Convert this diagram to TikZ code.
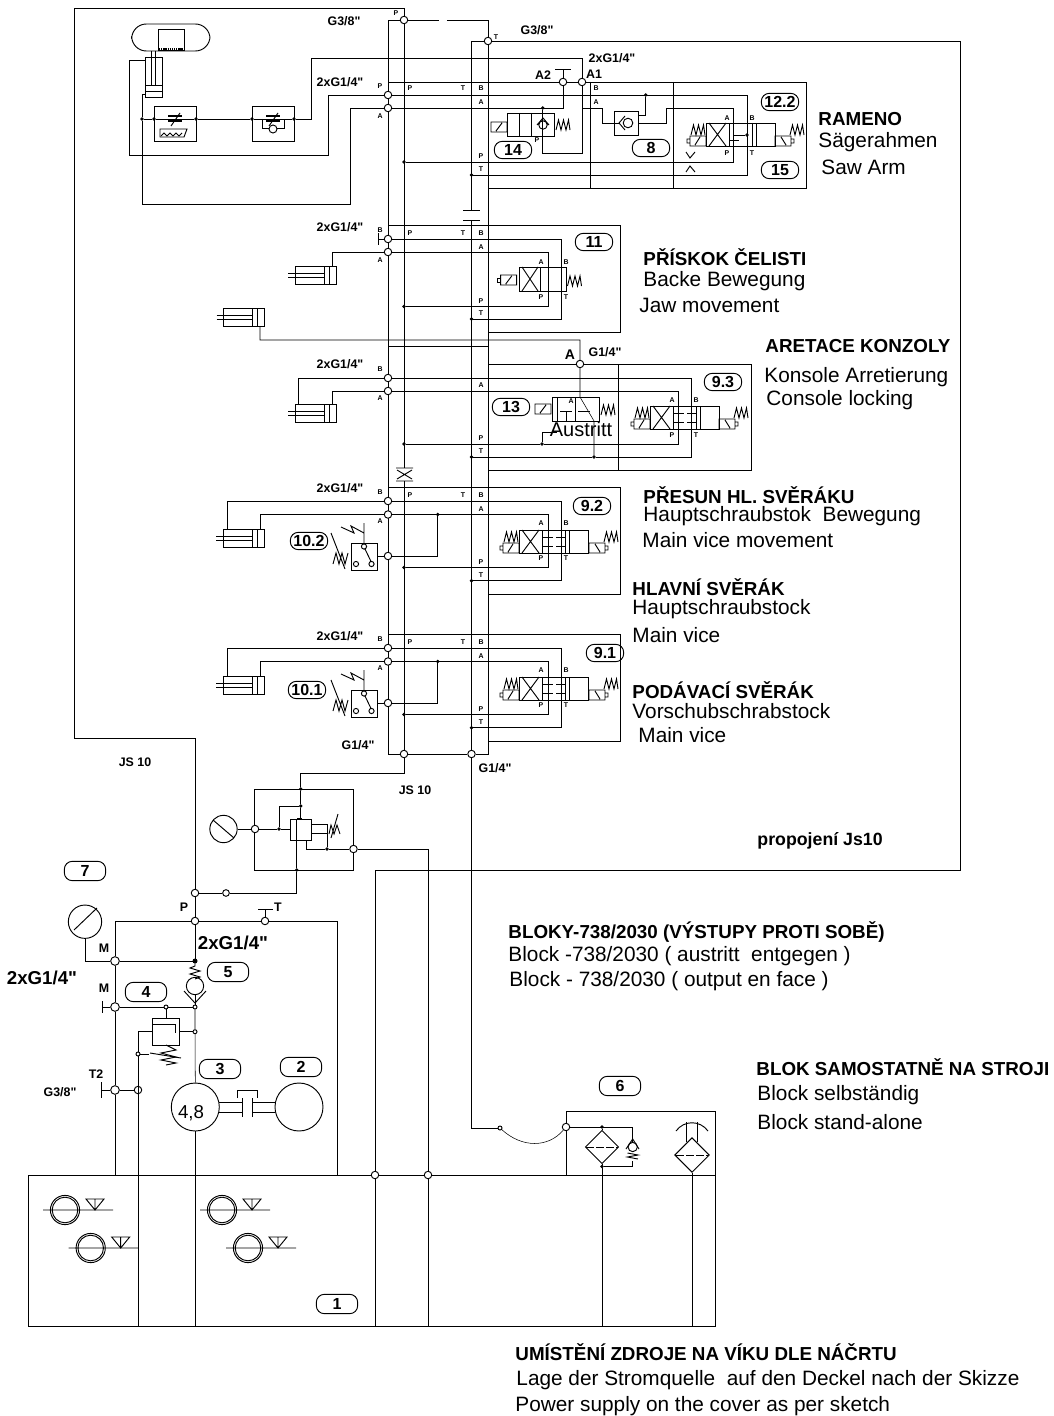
\documentclass[tikz,border=0pt]{standalone}
\usepackage{fontspec}
\setmainfont{Liberation Sans}
\newfontfamily\portfont{Liberation Sans}
\usetikzlibrary{backgrounds, shapes.geometric}

\begin{document}
\begin{tikzpicture}[
  x=0.75pt, y=-0.75pt,
  line width=0.7pt,
  port/.style={circle, draw, fill=white, inner sep=0pt, minimum size=5.6pt},
  pin/.style={circle, draw, fill=white, inner sep=0pt, minimum size=3pt},
  dot/.style={circle, draw, fill=black, inner sep=0pt, minimum size=1.8pt},
  letter/.style={inner sep=0pt, font=\fontsize{5.2}{6}\selectfont\bfseries},
  thread/.style={inner sep=0pt, font=\portfont\fontsize{9.3}{10}\selectfont\bfseries},
  head/.style={anchor=west, inner sep=0pt, font=\fontsize{14.1}{15}\selectfont\bfseries},
  sub/.style={anchor=west, inner sep=0pt, font=\fontsize{15.6}{16}\selectfont},
  balloon/.style={draw, rounded corners=6pt, minimum width=28pt, minimum height=13pt, inner sep=0pt,
    font=\fontsize{12}{13}\selectfont\bfseries},
  springz/.pic={\draw (0,10)--(2.5,0)--(5,10)--(7.5,0)--(10,10)--(12.5,0)--(14,10);},
  coil/.pic={\draw (0,0) rectangle (16,10) (5,9)--(11,1);},
  actuator/.pic={
    \draw (-16,13) rectangle (0,23) (-11,22)--(-6,14) (-16,16) rectangle (-19,20);
    \path (-15,2) pic {springz};},
  valve/.pic={
    \draw (0,0) rectangle (69,23) (23,0)--(23,23) (46,0)--(46,23) (50,0)--(50,23);
    \draw (3,0)--(20,23) (3,23)--(20,0);},
  caps/.pic={
    \draw (24,7)--(34,7) (37,7)--(47,7) (24,16)--(34,16) (37,16)--(47,16);},
  cylinder/.pic={
    \draw (0,0) rectangle (41,18) (29,0)--(29,18) (34,0)--(34,18);
    \draw (-7,7)--(29,7) (-7,11)--(29,11);},
  switch/.pic={
    \draw (0,0) rectangle (26,27);
    \draw (13,3.5) circle (2.6) (5,21) circle (2.6) (20.5,21) circle (2.6) (14,6)--(20,18.5);
    \draw (13,1)--(13,-20) (13,-10)--(0,-17)--(3,-10)--(-10,-16);
    \draw (-20,-10)--(-6,26) (-18,21)--(-15,10)--(-12,21)--(-9,10)--(-6,21)--(-3,10);},
  throttle/.pic={
    \draw[line width=1pt] (-7,-3)--(7,-3) (-7,2)--(7,2);
    \draw (-4,7)--(5,-6);},
  tanksign/.pic={
    \draw (0,0) circle (14.6) (0,0) circle (12.8) (-22,0)--(48,0);
    \draw (21,-11)--(39,-11)--(30,0)--cycle (30,-11)--(30,0);}
]
\useasboundingbox (0,0) rectangle (1053,1416);

% ports on the manifold
\node[port] (pTop) at (404,20) {};
\node[port] (tOut) at (488,41) {};
\node[port] (rB) at (388,95) {};
\node[port] (rA) at (388,108) {};
\node[port] (a2) at (563,82) {};
\node[port] (a1) at (582,82) {};
\node[dot] (rP) at (404,162) {};
\node[dot] (rT) at (471.5,175) {};
\node[dot] (d14) at (542.7,108) {};
\node[dot] (d8) at (645.7,95) {};
\node[dot] (d15) at (747,135) {};
\node[dot] (cA) at (142,119) {};
\node[dot] (cB) at (154,119) {};
\node[dot] (cC) at (196,119) {};
\node[dot] (cD) at (252,119) {};
\node[dot] (cE) at (294,119) {};
\node[port] (p11B) at (388,239) {};
\node[port] (p11A) at (388,252) {};
\node[dot] (d11P) at (404,306.5) {};
\node[dot] (d11T) at (471.5,319) {};
\node[port] (jA) at (580,364) {};
\node[port] (p13B) at (388,378) {};
\node[port] (p13A) at (388,391) {};
\node[dot] (d13P) at (404,444) {};
\node[dot] (d13T) at (471.5,457) {};
\node[dot] (e13P) at (542,444) {};
\node[dot] (e13T) at (594,457) {};
\node[port] (botP) at (404,754) {};
\node[port] (botT) at (471.5,754) {};
\foreach \d/\n in {0/a,147/b} {
  \node[port] (pB\n) at (388,{501+\d}) {};
  \node[port] (pA\n) at (388,{514.5+\d}) {};
  \node[port] (pS\n) at (388,{556+\d}) {};
  \node[dot] (dS\n) at (437.7,{514.5+\d}) {};
  \node[dot] (dP\n) at (404,{567.5+\d}) {};
  \node[dot] (dT\n) at (471.5,{580.7+\d}) {};
}

% js10 block
\node[port] (pG) at (255,829) {};
\node[port] (pR) at (353.5,849) {};
\node[dot] (dG) at (279,829) {};
\node[dot] (jTop) at (300.7,789) {};
\node[dot] (jIn) at (300.7,806) {};
\node[dot] (jSp) at (327,849) {};
\node[dot] (jBt) at (296.7,870) {};
\node[circle, draw, minimum size=20.5pt, inner sep=0pt] (gageJ) at (223.5,829) {};

% pump side
\node[port] (pPump) at (195,893) {};
\node[pin, minimum size=5pt] (pPin) at (226,893) {};
\node[port] (pMain) at (195,921) {};
\node[port] (pT) at (265,921) {};
\node[port, minimum size=6.5pt] (pM1) at (115,961) {};
\node[port, minimum size=6.5pt] (pM2) at (115,1007) {};
\node[port, minimum size=6.5pt] (pT2) at (115,1090) {};
\node[dot, minimum size=3pt] (dM) at (195,961) {};
\node[pin] (pinL) at (166,1007) {};
\node[pin] (pinR) at (195,1007) {};
\node[pin] (pinS) at (195,1031.7) {};
\node[pin] (pinD) at (138,1054) {};
\node[circle, draw, inner sep=0pt, minimum size=5.6pt] (xDr) at (138,1090) {};
\node[circle, draw, minimum size=25pt, inner sep=0pt] (gage7) at (85,921.7) {};
\node[circle, draw, minimum size=36pt, inner sep=0pt] (mot3) at (195.3,1107) {};
\node[circle, draw, minimum size=36pt, inner sep=0pt] (mot2) at (299,1107) {};
\node[circle, draw, minimum size=13pt, inner sep=0pt] (chk5) at (195,986) {};
\node[port] (pA3) at (375,1175) {};
\node[port] (pA4) at (428,1175) {};
\node[pin] (pinF) at (500,1128) {};
\node[port] (pF) at (566,1127) {};
\node[dot] (dF1) at (602,1127) {};
\node[dot] (dF2) at (602,1166.5) {};
\node[diamond, draw, minimum size=25pt, inner sep=0pt] (fil1) at (602,1147) {};
\node[diamond, draw, minimum size=26pt, inner sep=0pt] (fil2) at (692,1155) {};
\node[circle, draw, minimum size=7pt, inner sep=0pt] (chk6) at (632.7,1147) {};

\begin{scope}[on background layer]
  % main pressure and return
  \draw (pTop) |- (74,8) |- (195,738) -- (pPump) -- (pMain) -- (dM);
  \draw (pTop) -- (404,468);
  \draw (404,481) -- (botP);
  \draw (pTop) -- (388,20) -- (388,754) -- (botP) -- (botT) -- (488,754) -- (488,20);
  \draw[dash pattern=on 23pt off 6pt on 26pt off 0pt] (pTop) -- (488,20);
  \draw (tOut) -- (960,41) -- (960,870) -- (375,870) -- (pA3) -- (375,1326);
  \draw (tOut) -- (471.5,41) -- (471.5,210);
  \draw (471.5,220) -- (botT) -- (471.5,1128) -- (pinF);
  \draw (pinF) .. controls (522,1148) and (548,1148) .. (pF);

  % rameno
  \draw (388,82) -- (806,82) -- (806,188) -- (488,188) (590,82) -- (590,188) (673,82) -- (673,188);
  \draw (rB) -- (328.7,95) -- (328.7,155) -- (129,155) -- (129,60) -- (145,60);
  \draw (rB) -- (747,95) -- (747,175) -- (rT);
  \draw (rA) -- (350,108) -- (350,204) -- (142,204) -- (cA) -- (142,94) -- (145,94);
  \draw (rA) -- (563,108) -- (a2) -- (563,69);
  \draw (d14) -- (542.7,153) -- (582,153) -- (a1) -- (582,58) -- (311,58) -- (311,119) -- (cE);
  \draw (cA) -- (cB) -- (cC) -- (cD) -- (cE);
  \draw (582,108) -- (602.7,108) -- (602.7,123) -- (614,123);
  \draw (638,123) -- (666,123) -- (666,108) -- (733,108) -- (733,162) -- (rP);
  \draw (638,115) -- (645.7,115) -- (d8);
  \draw (733,135) -- (d15);

  % priskok
  \draw (388,225) -- (620.7,225) -- (620.7,332.7) -- (488,332.7);
  \draw (p11B) -- (378,239);
  \draw (p11B) -- (561,239) -- (561,319) -- (d11T);
  \draw (p11A) -- (548,252) -- (548,306.5) -- (d11P);
  \draw (p11A) -- (332,252) -- (332,266.5);

  % aretace
  \draw (388,346) -- (488,346);
  \draw (488,364) -- (jA) -- (751,364) -- (751,470) -- (488,470) (618,364) -- (618,470);
  \draw (260,326) -- (260,340) -- (580,340) -- (jA) -- (580,397) -- (594,421) -- (e13T);
  \draw (p13B) -- (298.7,378) -- (298.7,404);
  \draw (p13B) -- (691,378) -- (691,457) -- (e13T) -- (d13T);
  \draw (p13A) -- (332,391) -- (332,404);
  \draw (p13A) -- (678,391) -- (678,444) -- (e13P) -- (d13P);
  \draw (e13P) -- (542,432) -- (557,432);

  % vice blocks
  \foreach \d/\n in {0/a,147/b} {
    \draw (388,{487+\d}) -- (620.7,{487+\d}) -- (620.7,{594+\d}) -- (488,{594+\d});
    \draw (pB\n) -- (227,{501+\d}) -- (227,{529+\d});
    \draw (pA\n) -- (260,{514.5+\d}) -- (260,{529+\d});
    \draw (pB\n) -- (561,{501+\d}) -- (561,{580.7+\d}) -- (dT\n);
    \draw (pA\n) -- (548,{514.5+\d}) -- (548,{567.5+\d}) -- (dP\n);
    \draw (dS\n) -- (437.7,{556+\d}) -- (pS\n) -- (377,{556+\d});
  }

  % js10
  \draw (botP) -- (404,773) -- (300.7,773) -- (jTop) -- (jIn) -- (300.7,819);
  \draw (254.5,789) rectangle (353.5,870);
  \draw (gageJ) -- (pG) -- (dG) -- (290,829);
  \draw (dG) -- (279,806) -- (jIn);
  \draw (296.7,819) -- (jBt) -- (296.7,893) -- (pPin) -- (pPump);
  \draw (306,840) -- (306,849) -- (jSp) -- (pR);
  \draw (jSp) -- (327,833);
  \draw (pR) -- (428,849) -- (pA4) -- (428,1326);

  % pump
  \draw (115,1175) -- (pT2) -- (pM2) -- (pM1) -- (115,921) -- (pMain) -- (pT) -- (337.7,921) -- (337.7,1175);
  \draw (pT) -- (265,909);
  \draw (gage7) -- (85,961) -- (pM1) -- (dM);
  \draw (pM2) -- (pinL) -- (pinR);
  \draw (pM2) -- (102.7,1007);
  \draw (pT2) -- (101,1090);
  \draw (pT2) -- (xDr);
  \draw (pinL) -- (166,1018);
  \draw (179.7,1031.7) -- (pinS);
  \draw (152.7,1031.7) -- (138,1031.7) -- (pinD) -- (138,1326);
  \draw (pinD) -- (149,1054);
  \draw (pinR) -- (pinS) -- (mot3.north);
  \draw (mot3.south) -- (195.3,1326);
  \draw (chk5) -- (pinR);

  % filters
  \draw (pF) -- (632.7,1127) -- (chk6);
  \draw (dF1) -- (fil1.north);
  \draw (fil1.south) -- (dF2) -- (602,1326);
  \draw (dF2) -- (632.7,1166.5) -- (632.7,1161);
  \draw (fil2.south) -- (692,1326);
  \draw (566,1175) -- (pF) -- (566,1111.5) -- (715.7,1111.5) -- (715.7,1175);
  \draw (28.7,1175) rectangle (715.7,1326);
\end{scope}

% saw arm actuator
\draw[rounded corners=11pt] (131.7,24) rectangle (210,51);
\draw (158,29) rectangle (184,50);
\draw[line width=1.6pt, dash pattern=on 1pt off 0.6pt] (159,49) -- (183,49);
\draw (145,57) rectangle (162,97) (145,85) -- (162,85) (145,91.5) -- (162,91.5);
\draw (151.7,51) -- (151.7,85) (155.7,51) -- (155.7,85);
\draw (154.3,106.7) rectangle (196,141.7) (252,106.7) rectangle (294,141.7);
\path (175,119) pic {throttle} (273,119) pic {throttle};
\draw (160,129) -- (187,129) -- (184,137) -- (160,137) -- cycle;
\draw (161,136) -- (164,133) -- (167,136) -- (170,133) -- (173,136) -- (176,133) -- (179,136) -- (182,133);
\draw (273,129) circle (4);
\draw (262,119) -- (262,128) -- (269,128) (277,128) -- (284,128) -- (284,119);

% rameno valves
\draw (555,69) -- (571,69);
\draw (507.7,113) rectangle (554,136) (519.5,113) -- (519.5,136) (531.5,113) -- (531.5,136);
\draw (543,125) circle (4.2) (537,125) -- (543,118) -- (549,125);
\path (491,122) pic {coil} (556,120) pic {springz};
\draw (614,111.5) rectangle (638,135) (614,123) -- (619,123);
\draw (625,116) -- (619,123) -- (625,130) (628,123) circle (4.8);
\path (706,123) pic {valve} (706,123) pic {actuator} (775,123) pic[xscale=-1] {actuator};
\draw (730,140) -- (739,140) (733,140) -- (733,146);
\draw (686,152) -- (690,158) -- (695,152) (686,172) -- (690,166) -- (695,172);

% jaw
\path (295,266.5) pic {cylinder} (223.5,308) pic {cylinder};
\draw (378,233) -- (378,245);
\draw (519.7,267) rectangle (566.5,291) (540,267) -- (540,291);
\draw (522,267) -- (538,291) (522,291) -- (538,267);
\path (500.7,275) pic {coil} (567.5,276) pic {springz};
\draw (497,278) rectangle (500.7,282);

% locking
\path (295,404) pic {cylinder};
\draw (552,397) rectangle (599,421) (557,397) -- (557,421) (575,397) -- (575,421);
\draw (560,411) -- (572,411) (566,411) -- (566,421) (578,411) -- (590,411);
\path (535,404) pic {coil} (601,405) pic {springz};
\path (650,406) pic {valve} (650,406) pic {caps} (650,406) pic {actuator} (719,406) pic[xscale=-1] {actuator};

% throttle on pressure line
\draw (396,468) -- (413,468) (396,481) -- (413,481) (397,470) -- (412,479) (397,479) -- (412,470);
% gap on return line
\draw (463,210) -- (480,210) (463,220) -- (480,220);

\foreach \d in {0,147} {
  \path (223,{529+\d}) pic {cylinder};
  \path (351,{543+\d}) pic {switch};
  \path (519,{530+\d}) pic {valve} (519,{530+\d}) pic {caps} (519,{530+\d}) pic {actuator}
    (589,{530+\d}) pic[xscale=-1] {actuator};
}

% js10 valve
\draw (213,820) -- (234,838);
\draw (290,819) rectangle (311,840);
\draw[line width=1.2pt] (297,819) -- (302,819);
\draw (311,824) -- (328,824) (311,833) -- (328,833) (327,824) -- (327,833);
\draw (329,834) -- (331,825) -- (334,834) -- (337,825) -- (340,834) (331,838) -- (338,814);

% pump details
\draw (258,909) -- (273,909);
\draw (74,930) -- (97,908);
\draw (102.7,1001) -- (102.7,1013) (101,1082) -- (101,1098);
\draw (dM) -- (195,966) -- (190,968) -- (200,971) -- (190,974) -- (200,977) -- (195,979);
\draw (184,991) -- (195,1003) -- (206,991);
\draw (152.7,1018) rectangle (179.7,1045);
\draw (152.7,1024) -- (175,1024) -- (175,1033);
\draw (166,1045) -- (176,1050) -- (161,1053) -- (176,1057) -- (161,1060) -- (176,1063) -- (166,1065);
\draw (150,1053) -- (181,1058);
\draw (219,1102) -- (242,1102) (219,1112) -- (242,1112) (252.5,1102) -- (275,1102) (252.5,1112) -- (275,1112);
\draw (242,1098) -- (242,1117) (252.5,1098) -- (252.5,1117);
\draw (237,1098) -- (237,1090) -- (257,1090) -- (257,1098);

% filter details
\draw[dash pattern=on 6pt off 1.5pt] (586,1147) -- (618,1147);
\draw[dash pattern=on 6pt off 1.5pt] (676,1155) -- (708,1155);
\draw (686.7,1122) -- (686.7,1142) (697,1122) -- (697,1142);
\draw (676,1131) .. controls (684,1120) and (700,1120) .. (708,1131);
\draw (626,1149) -- (632.7,1139) -- (639,1149);
\draw (627.5,1153) -- (638,1155) -- (627.5,1157) -- (638,1159);

% tank
\path (65,1210) pic {tanksign} (90.7,1248) pic {tanksign} (222,1210) pic {tanksign} (248,1248) pic {tanksign};

% balloons
\foreach \x/\y/\t [count=\i] in {
  780/102/12.2, 780/170/15, 513/150/14, 651/148/8, 594/242/11, 511/407/13, 723/382/9.3,
  592/506/9.2, 605/653/9.1, 309/541/10.2, 307/690/10.1}
  \node[balloon] (b\i) at (\x,\y) {\t};
\foreach \x/\y/\t [count=\i] in {
  85/871/7, 228/972/5, 146/992/4, 220/1069/3, 301/1067/2, 620/1086/6, 337/1304/1}
  \node[balloon, minimum width=31pt, minimum height=14.5pt] (g\i) at (\x,\y) {\t};

% port letters
\foreach \x/\y/\t [count=\i] in {
  396/13/P, 496/37/T, 380/86/P, 410/88/P, 463/88/T, 481/88/B, 481/102/A, 380/116/A, 481/156/P, 481/169/T,
  596/88/B, 596/102/A, 537/140/P, 727/118/A, 752/118/B, 727/153/P, 752/153/T,
  380/230/B, 410/233/P, 463/233/T, 481/233/B, 481/247/A, 380/260/A, 481/301/P, 481/313/T,
  541/262/A, 566/262/B, 541/297/P, 566/297/T,
  380/369/B, 481/385/A, 380/398/A, 481/438/P, 481/451/T, 571/401/A, 672/400/A, 696/400/B, 672/435/P, 696/435/T,
  380/492/B, 410/495/P, 463/495/T, 481/495/B, 481/509/A, 380/521/A, 481/562/P, 481/575/T,
  541/523/A, 566/523/B, 541/558/P, 566/558/T,
  380/639/B, 410/642/P, 463/642/T, 481/642/B, 481/656/A, 380/668/A, 481/709/P, 481/722/T,
  541/670/A, 566/670/B, 541/705/P, 566/705/T}
  \node[letter] (l\i) at (\x,\y) {\t};

% thread sizes
\foreach \x/\y/\t [count=\i] in {
  344/21/{G3/8"}, 537/30/{G3/8"}, 340/82/{2xG1/4"}, 612/58/{2xG1/4"}, 340/227/{2xG1/4"},
  340/364/{2xG1/4"}, 340/488/{2xG1/4"}, 340/636/{2xG1/4"}, 605/352/{G1/4"}, 358/745/{G1/4"},
  495/768/{G1/4"}, 135/762/{JS 10}, 415/790/{JS 10}, 60/1092/{G3/8"}, 543/75/{A2}, 594/74/{A1},
  96/1074/{T2}, 104/948/{M}, 104/988/{M}, 184/907/{P}, 278/907/{T}}
  \node[thread] (s\i) at (\x,\y) {\t};
\node[inner sep=0pt, font=\fontsize{10.5}{12}\selectfont\bfseries] (sA) at (570,355) {A};
\node[inner sep=0pt, font=\portfont\fontsize{14}{15}\selectfont\bfseries] (big1) at (233,943) {2xG1/4"};
\node[inner sep=0pt, font=\portfont\fontsize{14}{15}\selectfont\bfseries] (big2) at (42,978) {2xG1/4"};
\node[inner sep=0pt, font=\fontsize{14}{15}\selectfont] (size48) at (191,1113) {4,8};
\node[inner sep=0pt, font=\fontsize{15}{16}\selectfont] (austr) at (581,429) {Austritt};
\node[anchor=west, inner sep=0pt, font=\fontsize{13.3}{14}\selectfont\bfseries] (propoj) at (757,841) {propojení Js10};

% headings
\foreach \x/\y/\t [count=\i] in {
  818/119/RAMENO, 643/257/{PŘÍSKOK ČELISTI}, 765/346/{ARETACE KONZOLY}, 643/495/{PŘESUN HL. SVĚRÁKU},
  632/587/{HLAVNÍ SVĚRÁK}, 632/690/{PODÁVACÍ SVĚRÁK}, 508/932/{BLOKY-738/2030 (VÝSTUPY PROTI SOBĚ)},
  756/1067/{BLOK SAMOSTATNĚ NA STROJI}, 515/1352/{UMÍSTĚNÍ ZDROJE NA VÍKU DLE NÁČRTU}}
  \node[head] (h\i) at (\x,\y) {\t};
\foreach \x/\y/\t [count=\i] in {
  818/142/Sägerahmen, 821/167/{Saw Arm}, 643/281/{Backe Bewegung}, 639/305/{Jaw movement},
  764/377/{Konsole Arretierung}, 766/400/{Console locking}, 643/516/{Hauptschraubstok\ \ Bewegung},
  642/540/{Main vice movement}, 632/609/Hauptschraubstock, 632/635/{Main vice}, 632/711/Vorschubschrabstock,
  638/735/{Main vice}, 508/956/{Block -738/2030 ( austritt\ \ entgegen )}, 509/981/{Block - 738/2030 ( output en face )},
  757/1095/{Block selbständig}, 757/1122/{Block stand-alone},
  516/1380/{Lage der Stromquelle\ \ auf den Deckel nach der Skizze}, 515/1406/{Power supply on the cover as per sketch}}
  \node[sub] (t\i) at (\x,\y) {\t};
\end{tikzpicture}
\end{document}
